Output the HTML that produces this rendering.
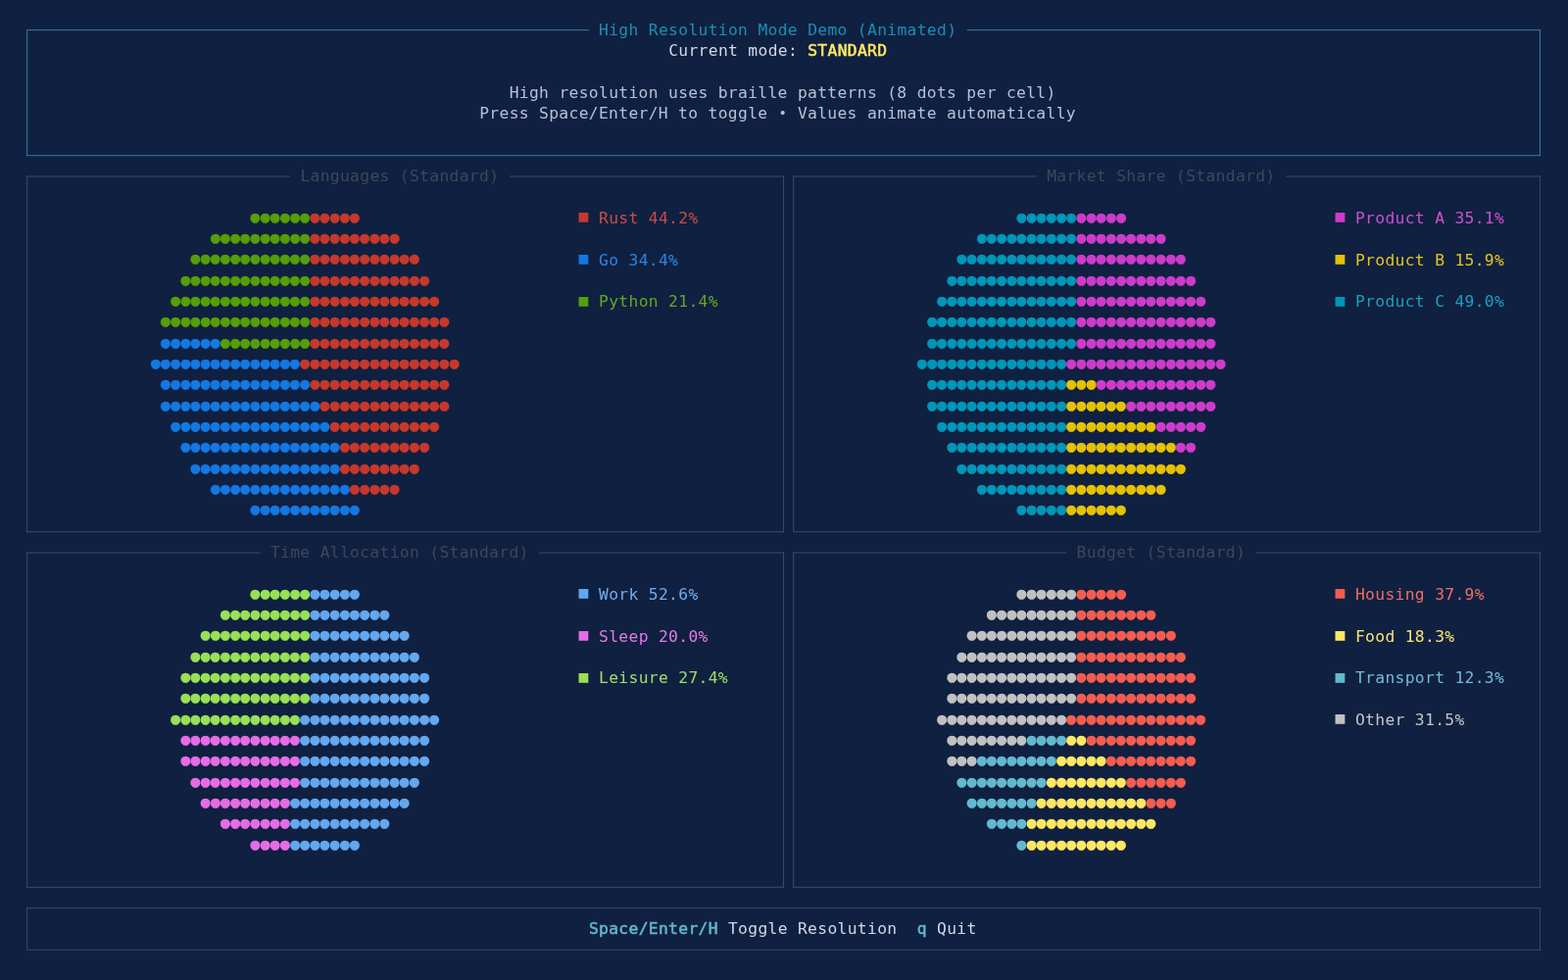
<!DOCTYPE html>
<html lang="en"><head><meta charset="utf-8"><title>High Resolution Mode Demo</title>
<style>
html,body{margin:0;padding:0;background:#102040;}
body{width:1600px;height:1000px;overflow:hidden;position:relative;font-family:"DejaVu Sans Mono", "Liberation Mono", monospace;color:#d0d7e8;}
.t{position:absolute;white-space:pre;font-size:16.3px;line-height:21.3333px;height:21.3333px;letter-spacing:0.3432px;font-kerning:none;font-variant-ligatures:none;}
.d{position:absolute;white-space:pre;font-size:17.0px;line-height:21.3333px;height:21.3333px;letter-spacing:-0.0783px;font-kerning:none;}
.q{position:absolute;white-space:pre;font-size:16.35px;line-height:21.3333px;height:21.3333px;}
svg{position:absolute;left:0;top:0;}
.l{fill:#414a5d;}
.h{fill:#3a7ba4;}
b{font-weight:normal;-webkit-text-stroke:0.55px currentColor;paint-order:stroke fill;}
.u{font-size:85%;vertical-align:0.04em;letter-spacing:0;display:inline-block;width:10.1566px;text-align:center;}
</style></head>
<body>
<svg width="1600" height="1000" viewBox="0 0 1600 1000">
<rect class="h" x="27.16" y="30.17" width="1" height="129.00"/>
<rect class="h" x="1570.96" y="30.17" width="1" height="129.00"/>
<rect class="h" x="27.16" y="158.17" width="1544.80" height="1"/>
<rect class="h" x="27.16" y="30.17" width="573.77" height="1"/>
<rect class="h" x="986.88" y="30.17" width="585.08" height="1"/>
<rect class="l" x="27.16" y="179.50" width="1" height="363.67"/>
<rect class="l" x="799.06" y="179.50" width="1" height="363.67"/>
<rect class="l" x="27.16" y="542.17" width="772.90" height="1"/>
<rect class="l" x="27.16" y="179.50" width="269.07" height="1"/>
<rect class="l" x="519.67" y="179.50" width="280.39" height="1"/>
<rect class="l" x="809.22" y="179.50" width="1" height="363.67"/>
<rect class="l" x="1570.96" y="179.50" width="1" height="363.67"/>
<rect class="l" x="809.22" y="542.17" width="762.74" height="1"/>
<rect class="l" x="809.22" y="179.50" width="248.76" height="1"/>
<rect class="l" x="1311.89" y="179.50" width="260.07" height="1"/>
<rect class="l" x="27.16" y="563.50" width="1" height="342.33"/>
<rect class="l" x="799.06" y="563.50" width="1" height="342.33"/>
<rect class="l" x="27.16" y="904.83" width="772.90" height="1"/>
<rect class="l" x="27.16" y="563.50" width="238.60" height="1"/>
<rect class="l" x="550.14" y="563.50" width="249.92" height="1"/>
<rect class="l" x="809.22" y="563.50" width="1" height="342.33"/>
<rect class="l" x="1570.96" y="563.50" width="1" height="342.33"/>
<rect class="l" x="809.22" y="904.83" width="762.74" height="1"/>
<rect class="l" x="809.22" y="563.50" width="279.23" height="1"/>
<rect class="l" x="1281.42" y="563.50" width="290.54" height="1"/>
<rect class="l" x="27.16" y="926.17" width="1" height="43.67"/>
<rect class="l" x="1570.96" y="926.17" width="1" height="43.67"/>
<rect class="l" x="27.16" y="968.83" width="1544.80" height="1"/>
<rect class="l" x="27.16" y="926.17" width="1544.80" height="1"/>
</svg>
<div class="t" style="left:611.083px;top:19.883px;color:#1a8fb4;">High Resolution Mode Demo (Animated)</div>
<div class="t" style="left:682.179px;top:40.883px;">Current mode: <b style="color:#ffe763">STANDARD</b></div>
<div class="t" style="left:519.673px;top:83.883px;color:#b6c0d6;">High resolution uses braille patterns (8 dots per cell)</div>
<div class="t" style="left:489.204px;top:104.883px;color:#b6c0d6;">Press Space/Enter/H to toggle <span class="u">•</span> Values animate automatically</div>
<div class="t" style="left:306.385px;top:168.883px;color:#3e475a;">Languages (Standard)</div>
<div class="t" style="left:1068.130px;top:168.883px;color:#3e475a;">Market Share (Standard)</div>
<div class="t" style="left:275.915px;top:552.883px;color:#3e475a;">Time Allocation (Standard)</div>
<div class="t" style="left:1098.600px;top:552.883px;color:#3e475a;">Budget (Standard)</div>
<div class="t" style="left:600.926px;top:936.883px;"><b style="color:#60b6cb">Space/Enter/H</b> Toggle Resolution  <b style="color:#60b6cb">q</b> Quit</div>
<div class="q" style="left:590.600px;top:209.883px;color:#c6382b">■</div>
<div class="t" style="left:611.083px;top:211.883px;color:#c74e45;">Rust 44.2%</div>
<div class="q" style="left:590.600px;top:252.883px;color:#1378e2">■</div>
<div class="t" style="left:611.083px;top:254.883px;color:#2d85e3;">Go 34.4%</div>
<div class="q" style="left:590.600px;top:295.883px;color:#559e07">■</div>
<div class="t" style="left:611.083px;top:296.883px;color:#66a626;">Python 21.4%</div>
<div class="q" style="left:1362.501px;top:209.883px;color:#cd3bca">■</div>
<div class="t" style="left:1382.984px;top:211.883px;color:#cd50ce;">Product A 35.1%</div>
<div class="q" style="left:1362.501px;top:252.883px;color:#e5c200">■</div>
<div class="t" style="left:1382.984px;top:254.883px;color:#e2c520;">Product B 15.9%</div>
<div class="q" style="left:1362.501px;top:295.883px;color:#0096b8">■</div>
<div class="t" style="left:1382.984px;top:296.883px;color:#1d9fbf;">Product C 49.0%</div>
<div class="q" style="left:590.600px;top:593.883px;color:#62a7ef">■</div>
<div class="t" style="left:611.083px;top:595.883px;color:#71adee;">Work 52.6%</div>
<div class="q" style="left:590.600px;top:636.883px;color:#e66ce5">■</div>
<div class="t" style="left:611.083px;top:638.883px;color:#e27be5;">Sleep 20.0%</div>
<div class="q" style="left:590.600px;top:679.883px;color:#98e055">■</div>
<div class="t" style="left:611.083px;top:680.883px;color:#9fde6a;">Leisure 27.4%</div>
<div class="q" style="left:1362.501px;top:593.883px;color:#f45c50">■</div>
<div class="t" style="left:1382.984px;top:595.883px;color:#ef6d65;">Housing 37.9%</div>
<div class="q" style="left:1362.501px;top:636.883px;color:#ffe763">■</div>
<div class="t" style="left:1382.984px;top:638.883px;color:#f8e476;">Food 18.3%</div>
<div class="q" style="left:1362.501px;top:679.883px;color:#62b9ce">■</div>
<div class="t" style="left:1382.984px;top:680.883px;color:#71bdd2;">Transport 12.3%</div>
<div class="q" style="left:1362.501px;top:721.883px;color:#c1c1c1">■</div>
<div class="t" style="left:1382.984px;top:723.883px;color:#c3c4c6;">Other 31.5%</div>
<div class="d" style="left:255.252px;top:210.883px;color:#559e07">●●●●●●</div>
<div class="d" style="left:316.191px;top:210.883px;color:#c6382b">●●●●●</div>
<div class="d" style="left:214.625px;top:231.883px;color:#559e07">●●●●●●●●●●</div>
<div class="d" style="left:316.191px;top:231.883px;color:#c6382b">●●●●●●●●●</div>
<div class="d" style="left:194.312px;top:252.883px;color:#559e07">●●●●●●●●●●●●</div>
<div class="d" style="left:316.191px;top:252.883px;color:#c6382b">●●●●●●●●●●●</div>
<div class="d" style="left:184.156px;top:274.883px;color:#559e07">●●●●●●●●●●●●●</div>
<div class="d" style="left:316.191px;top:274.883px;color:#c6382b">●●●●●●●●●●●●</div>
<div class="d" style="left:173.999px;top:295.883px;color:#559e07">●●●●●●●●●●●●●●</div>
<div class="d" style="left:316.191px;top:295.883px;color:#c6382b">●●●●●●●●●●●●●</div>
<div class="d" style="left:163.842px;top:316.883px;color:#559e07">●●●●●●●●●●●●●●●</div>
<div class="d" style="left:316.191px;top:316.883px;color:#c6382b">●●●●●●●●●●●●●●</div>
<div class="d" style="left:163.842px;top:338.883px;color:#1378e2">●●●●●●</div>
<div class="d" style="left:224.782px;top:338.883px;color:#559e07">●●●●●●●●●</div>
<div class="d" style="left:316.191px;top:338.883px;color:#c6382b">●●●●●●●●●●●●●●</div>
<div class="d" style="left:153.686px;top:359.883px;color:#1378e2">●●●●●●●●●●●●●●●</div>
<div class="d" style="left:306.035px;top:359.883px;color:#c6382b">●●●●●●●●●●●●●●●●</div>
<div class="d" style="left:163.842px;top:380.883px;color:#1378e2">●●●●●●●●●●●●●●●</div>
<div class="d" style="left:316.191px;top:380.883px;color:#c6382b">●●●●●●●●●●●●●●</div>
<div class="d" style="left:163.842px;top:402.883px;color:#1378e2">●●●●●●●●●●●●●●●●</div>
<div class="d" style="left:326.348px;top:402.883px;color:#c6382b">●●●●●●●●●●●●●</div>
<div class="d" style="left:173.999px;top:423.883px;color:#1378e2">●●●●●●●●●●●●●●●●</div>
<div class="d" style="left:336.505px;top:423.883px;color:#c6382b">●●●●●●●●●●●</div>
<div class="d" style="left:184.156px;top:444.883px;color:#1378e2">●●●●●●●●●●●●●●●●</div>
<div class="d" style="left:346.661px;top:444.883px;color:#c6382b">●●●●●●●●●</div>
<div class="d" style="left:194.312px;top:466.883px;color:#1378e2">●●●●●●●●●●●●●●●</div>
<div class="d" style="left:346.661px;top:466.883px;color:#c6382b">●●●●●●●●</div>
<div class="d" style="left:214.625px;top:487.883px;color:#1378e2">●●●●●●●●●●●●●●</div>
<div class="d" style="left:356.818px;top:487.883px;color:#c6382b">●●●●●</div>
<div class="d" style="left:255.252px;top:508.883px;color:#1378e2">●●●●●●●●●●●</div>
<div class="d" style="left:1037.310px;top:210.883px;color:#0096b8">●●●●●●</div>
<div class="d" style="left:1098.250px;top:210.883px;color:#cd3bca">●●●●●</div>
<div class="d" style="left:996.684px;top:231.883px;color:#0096b8">●●●●●●●●●●</div>
<div class="d" style="left:1098.250px;top:231.883px;color:#cd3bca">●●●●●●●●●</div>
<div class="d" style="left:976.370px;top:252.883px;color:#0096b8">●●●●●●●●●●●●</div>
<div class="d" style="left:1098.250px;top:252.883px;color:#cd3bca">●●●●●●●●●●●</div>
<div class="d" style="left:966.214px;top:274.883px;color:#0096b8">●●●●●●●●●●●●●</div>
<div class="d" style="left:1098.250px;top:274.883px;color:#cd3bca">●●●●●●●●●●●●</div>
<div class="d" style="left:956.057px;top:295.883px;color:#0096b8">●●●●●●●●●●●●●●</div>
<div class="d" style="left:1098.250px;top:295.883px;color:#cd3bca">●●●●●●●●●●●●●</div>
<div class="d" style="left:945.901px;top:316.883px;color:#0096b8">●●●●●●●●●●●●●●●</div>
<div class="d" style="left:1098.250px;top:316.883px;color:#cd3bca">●●●●●●●●●●●●●●</div>
<div class="d" style="left:945.901px;top:338.883px;color:#0096b8">●●●●●●●●●●●●●●●</div>
<div class="d" style="left:1098.250px;top:338.883px;color:#cd3bca">●●●●●●●●●●●●●●</div>
<div class="d" style="left:935.744px;top:359.883px;color:#0096b8">●●●●●●●●●●●●●●●</div>
<div class="d" style="left:1088.093px;top:359.883px;color:#cd3bca">●●●●●●●●●●●●●●●●</div>
<div class="d" style="left:945.901px;top:380.883px;color:#0096b8">●●●●●●●●●●●●●●</div>
<div class="d" style="left:1088.093px;top:380.883px;color:#e5c200">●●●</div>
<div class="d" style="left:1118.563px;top:380.883px;color:#cd3bca">●●●●●●●●●●●●</div>
<div class="d" style="left:945.901px;top:402.883px;color:#0096b8">●●●●●●●●●●●●●●</div>
<div class="d" style="left:1088.093px;top:402.883px;color:#e5c200">●●●●●●</div>
<div class="d" style="left:1149.033px;top:402.883px;color:#cd3bca">●●●●●●●●●</div>
<div class="d" style="left:956.057px;top:423.883px;color:#0096b8">●●●●●●●●●●●●●</div>
<div class="d" style="left:1088.093px;top:423.883px;color:#e5c200">●●●●●●●●●</div>
<div class="d" style="left:1179.502px;top:423.883px;color:#cd3bca">●●●●●</div>
<div class="d" style="left:966.214px;top:444.883px;color:#0096b8">●●●●●●●●●●●●</div>
<div class="d" style="left:1088.093px;top:444.883px;color:#e5c200">●●●●●●●●●●●</div>
<div class="d" style="left:1199.816px;top:444.883px;color:#cd3bca">●●</div>
<div class="d" style="left:976.370px;top:466.883px;color:#0096b8">●●●●●●●●●●●</div>
<div class="d" style="left:1088.093px;top:466.883px;color:#e5c200">●●●●●●●●●●●●</div>
<div class="d" style="left:996.684px;top:487.883px;color:#0096b8">●●●●●●●●●</div>
<div class="d" style="left:1088.093px;top:487.883px;color:#e5c200">●●●●●●●●●●</div>
<div class="d" style="left:1037.310px;top:508.883px;color:#0096b8">●●●●●</div>
<div class="d" style="left:1088.093px;top:508.883px;color:#e5c200">●●●●●●</div>
<div class="d" style="left:255.252px;top:594.883px;color:#98e055">●●●●●●</div>
<div class="d" style="left:316.191px;top:594.883px;color:#62a7ef">●●●●●</div>
<div class="d" style="left:224.782px;top:615.883px;color:#98e055">●●●●●●●●●</div>
<div class="d" style="left:316.191px;top:615.883px;color:#62a7ef">●●●●●●●●</div>
<div class="d" style="left:204.469px;top:636.883px;color:#98e055">●●●●●●●●●●●</div>
<div class="d" style="left:316.191px;top:636.883px;color:#62a7ef">●●●●●●●●●●</div>
<div class="d" style="left:194.312px;top:658.883px;color:#98e055">●●●●●●●●●●●●</div>
<div class="d" style="left:316.191px;top:658.883px;color:#62a7ef">●●●●●●●●●●●</div>
<div class="d" style="left:184.156px;top:679.883px;color:#98e055">●●●●●●●●●●●●●</div>
<div class="d" style="left:316.191px;top:679.883px;color:#62a7ef">●●●●●●●●●●●●</div>
<div class="d" style="left:184.156px;top:700.883px;color:#98e055">●●●●●●●●●●●●●</div>
<div class="d" style="left:316.191px;top:700.883px;color:#62a7ef">●●●●●●●●●●●●</div>
<div class="d" style="left:173.999px;top:722.883px;color:#98e055">●●●●●●●●●●●●●</div>
<div class="d" style="left:306.035px;top:722.883px;color:#62a7ef">●●●●●●●●●●●●●●</div>
<div class="d" style="left:184.156px;top:743.883px;color:#e66ce5">●●●●●●●●●●●●</div>
<div class="d" style="left:306.035px;top:743.883px;color:#62a7ef">●●●●●●●●●●●●●</div>
<div class="d" style="left:184.156px;top:764.883px;color:#e66ce5">●●●●●●●●●●●●</div>
<div class="d" style="left:306.035px;top:764.883px;color:#62a7ef">●●●●●●●●●●●●●</div>
<div class="d" style="left:194.312px;top:786.883px;color:#e66ce5">●●●●●●●●●●●</div>
<div class="d" style="left:306.035px;top:786.883px;color:#62a7ef">●●●●●●●●●●●●</div>
<div class="d" style="left:204.469px;top:807.883px;color:#e66ce5">●●●●●●●●●</div>
<div class="d" style="left:295.878px;top:807.883px;color:#62a7ef">●●●●●●●●●●●●</div>
<div class="d" style="left:224.782px;top:828.883px;color:#e66ce5">●●●●●●●</div>
<div class="d" style="left:295.878px;top:828.883px;color:#62a7ef">●●●●●●●●●●</div>
<div class="d" style="left:255.252px;top:850.883px;color:#e66ce5">●●●●</div>
<div class="d" style="left:295.878px;top:850.883px;color:#62a7ef">●●●●●●●</div>
<div class="d" style="left:1037.310px;top:594.883px;color:#c1c1c1">●●●●●●</div>
<div class="d" style="left:1098.250px;top:594.883px;color:#f45c50">●●●●●</div>
<div class="d" style="left:1006.840px;top:615.883px;color:#c1c1c1">●●●●●●●●●</div>
<div class="d" style="left:1098.250px;top:615.883px;color:#f45c50">●●●●●●●●</div>
<div class="d" style="left:986.527px;top:636.883px;color:#c1c1c1">●●●●●●●●●●●</div>
<div class="d" style="left:1098.250px;top:636.883px;color:#f45c50">●●●●●●●●●●</div>
<div class="d" style="left:976.370px;top:658.883px;color:#c1c1c1">●●●●●●●●●●●●</div>
<div class="d" style="left:1098.250px;top:658.883px;color:#f45c50">●●●●●●●●●●●</div>
<div class="d" style="left:966.214px;top:679.883px;color:#c1c1c1">●●●●●●●●●●●●●</div>
<div class="d" style="left:1098.250px;top:679.883px;color:#f45c50">●●●●●●●●●●●●</div>
<div class="d" style="left:966.214px;top:700.883px;color:#c1c1c1">●●●●●●●●●●●●●</div>
<div class="d" style="left:1098.250px;top:700.883px;color:#f45c50">●●●●●●●●●●●●</div>
<div class="d" style="left:956.057px;top:722.883px;color:#c1c1c1">●●●●●●●●●●●●●</div>
<div class="d" style="left:1088.093px;top:722.883px;color:#f45c50">●●●●●●●●●●●●●●</div>
<div class="d" style="left:966.214px;top:743.883px;color:#c1c1c1">●●●●●●●●</div>
<div class="d" style="left:1047.467px;top:743.883px;color:#62b9ce">●●●●</div>
<div class="d" style="left:1088.093px;top:743.883px;color:#ffe763">●●</div>
<div class="d" style="left:1108.406px;top:743.883px;color:#f45c50">●●●●●●●●●●●</div>
<div class="d" style="left:966.214px;top:764.883px;color:#c1c1c1">●●●</div>
<div class="d" style="left:996.684px;top:764.883px;color:#62b9ce">●●●●●●●●</div>
<div class="d" style="left:1077.936px;top:764.883px;color:#ffe763">●●●●●</div>
<div class="d" style="left:1128.719px;top:764.883px;color:#f45c50">●●●●●●●●●</div>
<div class="d" style="left:976.370px;top:786.883px;color:#62b9ce">●●●●●●●●●</div>
<div class="d" style="left:1067.780px;top:786.883px;color:#ffe763">●●●●●●●●</div>
<div class="d" style="left:1149.033px;top:786.883px;color:#f45c50">●●●●●●</div>
<div class="d" style="left:986.527px;top:807.883px;color:#62b9ce">●●●●●●●</div>
<div class="d" style="left:1057.623px;top:807.883px;color:#ffe763">●●●●●●●●●●●</div>
<div class="d" style="left:1169.346px;top:807.883px;color:#f45c50">●●●</div>
<div class="d" style="left:1006.840px;top:828.883px;color:#62b9ce">●●●●</div>
<div class="d" style="left:1047.467px;top:828.883px;color:#ffe763">●●●●●●●●●●●●●</div>
<div class="d" style="left:1037.310px;top:850.883px;color:#62b9ce">●</div>
<div class="d" style="left:1047.467px;top:850.883px;color:#ffe763">●●●●●●●●●●</div>
</body></html>
